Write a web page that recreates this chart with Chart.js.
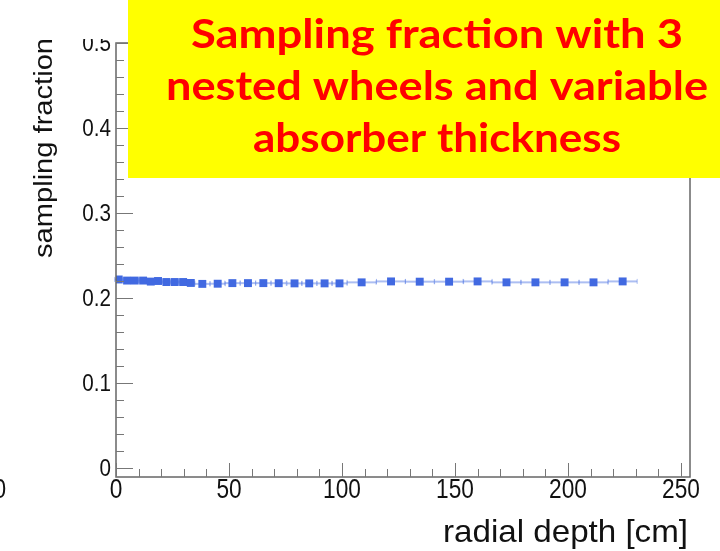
<!DOCTYPE html>
<html>
<head>
<meta charset="utf-8">
<script src="https://cdn.jsdelivr.net/npm/chart.js@4.4.1/dist/chart.umd.min.js"></script>
<style>
  html, body { margin: 0; padding: 0; background: #fff; }
</style>
</head>
<body>
<canvas id="grafico" width="720" height="551"></canvas>
<script>
// radial depth (cm) of each bin centre, per wheel
const wheel1Depth = [1.2, 4.9, 8.3, 12.0, 15.4, 18.6, 22.3, 26.0, 29.7, 33.1];
const wheel2Depth = [38.2, 45.0, 51.5, 58.4, 65.2, 72.0, 79.0, 85.5, 92.3, 98.9];
const wheel3Depth = [108.7, 121.7, 134.4, 147.4, 160.0, 172.8, 185.6, 198.5, 211.3, 224.2];
// sampling fraction per bin
const wheel1Frac = [0.2218, 0.2205, 0.2205, 0.2205, 0.2193, 0.2200, 0.2188, 0.2188, 0.2188, 0.2177];
const wheel2Frac = [0.2166, 0.2168, 0.2175, 0.2175, 0.2175, 0.2174, 0.2172, 0.2172, 0.2172, 0.2172];
const wheel3Frac = [0.2184, 0.2195, 0.2192, 0.2192, 0.2195, 0.2184, 0.2184, 0.2184, 0.2184, 0.2195];
// half bin width (cm) per wheel
const wheelHalfWidth = [1.77, 3.37, 6.42];

const xTicks = [0, 50, 100, 150, 200, 250];
const yTicks = [0, 0.1, 0.2, 0.3, 0.4, 0.5];
const xMinorStep = 10;
const yMinorStep = 0.02;

const titleLines = ["Sampling fraction with 3", "nested wheels and variable", "absorber thickness"];
const xTitle = "radial depth [cm]";
const yTitle = "sampling fraction";

const depths = [wheel1Depth, wheel2Depth, wheel3Depth];
const fracs = [wheel1Frac, wheel2Frac, wheel3Frac];

const pontos = [];
const barras = [];
depths.forEach((arr, w) => {
  arr.forEach((x, i) => {
    pontos.push({ x: x, y: fracs[w][i] });
    barras.push({ x: x, y: fracs[w][i], dx: wheelHalfWidth[w] });
  });
});

function stretchText(ctx, text, x, y, sx, sy) {
  ctx.save();
  ctx.translate(x, y);
  ctx.scale(sx, sy);
  ctx.fillText(text, 0, 0);
  ctx.restore();
}

const rootStyle = {
  id: 'rootStyle',
  beforeDatasetsDraw(chart) {
    const ctx = chart.ctx;
    const xs = chart.scales.x, ys = chart.scales.y;
    ctx.save();
    ctx.strokeStyle = 'rgba(90, 125, 230, 0.5)';
    barras.forEach(b => {
      const x1 = xs.getPixelForValue(b.x - b.dx);
      const x2 = xs.getPixelForValue(b.x + b.dx);
      const y = ys.getPixelForValue(b.y);
      ctx.lineWidth = 2;
      ctx.beginPath();
      ctx.moveTo(x1, y); ctx.lineTo(x2, y);
      ctx.stroke();
      ctx.lineWidth = 1;
      ctx.beginPath();
      ctx.moveTo(x1, y - 2.5); ctx.lineTo(x1, y + 2.5);
      ctx.moveTo(x2, y - 2.5); ctx.lineTo(x2, y + 2.5);
      ctx.stroke();
    });
    ctx.restore();
  },
  afterDraw(chart) {
    const ctx = chart.ctx;
    const a = chart.chartArea;
    const xs = chart.scales.x, ys = chart.scales.y;
    ctx.save();

    // frame
    ctx.strokeStyle = '#666';
    ctx.lineWidth = 1.5;
    ctx.strokeRect(a.left, a.top, a.right - a.left, a.bottom - a.top);

    // ticks
    ctx.strokeStyle = '#777';
    ctx.lineWidth = 1;
    ctx.beginPath();
    for (let v = 0; v <= xs.max + 1e-9; v += xMinorStep) {
      const px = Math.round(xs.getPixelForValue(v)) + 0.5;
      const major = Math.abs(v % 50) < 1e-6;
      ctx.moveTo(px, a.bottom);
      ctx.lineTo(px, a.bottom - (major ? 14 : 8));
    }
    for (let v = 0; v <= ys.max + 1e-9; v += yMinorStep) {
      const py = Math.round(ys.getPixelForValue(v)) + 0.5;
      const major = Math.abs((v + 1e-9) % 0.1) < 1e-6;
      ctx.moveTo(a.left, py);
      ctx.lineTo(a.left + (major ? 17 : 8), py);
    }
    ctx.stroke();

    // tick labels
    ctx.fillStyle = '#111';
    ctx.font = '24px "Liberation Sans", Arial, sans-serif';
    ctx.textAlign = 'right';
    ctx.textBaseline = 'middle';
    ctx.save();
    ctx.beginPath();
    ctx.rect(0, 39, a.left, chart.height);
    ctx.clip();
    yTicks.forEach(v => {
      const label = v === 0 ? '0' : v.toFixed(1);
      stretchText(ctx, label, 111, ys.getPixelForValue(v) + 1.5, 0.86, 1);
    });
    ctx.restore();

    ctx.font = '27px "Liberation Sans", Arial, sans-serif';
    ctx.textAlign = 'center';
    xTicks.forEach(v => {
      stretchText(ctx, String(v), xs.getPixelForValue(v), 491, 0.84, 1);
    });
    // cut-off label of the neighbouring pad
    ctx.textAlign = 'right';
    stretchText(ctx, '0', 6, 491, 0.84, 1);

    // axis titles
    ctx.font = '32px "Liberation Sans", Arial, sans-serif';
    ctx.textAlign = 'right';
    ctx.textBaseline = 'alphabetic';
    let w = ctx.measureText(xTitle).width;
    stretchText(ctx, xTitle, 688, 542, 245 / w, 1);

    ctx.font = '25px "Liberation Sans", Arial, sans-serif';
    ctx.textAlign = 'left';
    w = ctx.measureText(yTitle).width;
    ctx.save();
    ctx.translate(52, 258);
    ctx.rotate(-Math.PI / 2);
    stretchText(ctx, yTitle, 0, 0, 220 / w, 1);
    ctx.restore();

    // yellow title box
    ctx.fillStyle = '#ffff00';
    ctx.fillRect(128, 0, chart.width - 128, 178);
    ctx.fillStyle = '#ff0000';
    ctx.font = 'bold 41px Lato, "Open Sans", sans-serif';
    ctx.textAlign = 'center';
    const larguras = [492, 542, 368];
    titleLines.forEach((t, i) => {
      const tw = ctx.measureText(t).width;
      stretchText(ctx, t, 437, 48 + i * 52, larguras[i] / tw, 1);
    });

    ctx.restore();
  }
};

new Chart(document.getElementById('grafico').getContext('2d'), {
  type: 'scatter',
  data: {
    datasets: [{
      label: yTitle,
      data: pontos,
      pointStyle: 'rect',
      pointRadius: 5.6,
      pointHoverRadius: 5.6,
      backgroundColor: '#4169e1',
      borderWidth: 0,
      showLine: false
    }]
  },
  options: {
    responsive: false,
    animation: false,
    events: [],
    layout: { padding: { top: 43, right: 30, left: 0, bottom: 0 } },
    plugins: {
      legend: { display: false },
      tooltip: { enabled: false }
    },
    scales: {
      x: {
        type: 'linear',
        min: 0,
        max: 254,
        grid: { display: false },
        border: { display: false },
        ticks: { display: false },
        afterBuildTicks: s => { s.ticks = xTicks.map(v => ({ value: v })); },
        afterFit: s => { s.height = 74; }
      },
      y: {
        type: 'linear',
        min: -0.0106,
        max: 0.5,
        grid: { display: false },
        border: { display: false },
        ticks: { display: false },
        afterBuildTicks: s => { s.ticks = yTicks.map(v => ({ value: v })); },
        afterFit: s => { s.width = 116; }
      }
    }
  },
  plugins: [rootStyle]
});
</script>
</body>
</html>
